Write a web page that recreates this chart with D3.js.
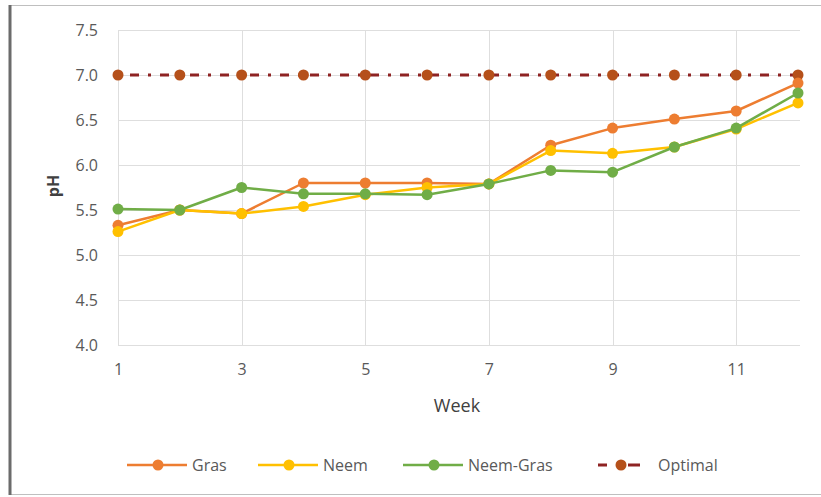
<!DOCTYPE html>
<html>
<head>
<meta charset="utf-8">
<script src="https://cdn.jsdelivr.net/npm/d3@7"></script>
<style>
  body { margin: 0; background: #fff; }
  text { font-family: "Open Sans", "Liberation Sans", sans-serif; }
</style>
</head>
<body>
<div class="chart"></div>
<script>
// pH per week for each treatment
var weeks = [1, 2, 3, 4, 5, 6, 7, 8, 9, 10, 11, 12];
var gras = [5.33, 5.5, 5.46, 5.8, 5.8, 5.8, 5.79, 6.22, 6.41, 6.51, 6.6, 6.91];
var neem = [5.26, 5.5, 5.46, 5.54, 5.67, 5.75, 5.79, 6.16, 6.13, 6.2, 6.4, 6.69];
var neemGras = [5.51, 5.5, 5.75, 5.68, 5.68, 5.67, 5.79, 5.94, 5.92, 6.2, 6.41, 6.8];
var optimal = [7, 7, 7, 7, 7, 7, 7, 7, 7, 7, 7, 7];
var seriesNames = ["Gras", "Neem", "Neem-Gras", "Optimal"];
var yTicks = [4.0, 4.5, 5.0, 5.5, 6.0, 6.5, 7.0, 7.5];
var xTicks = [1, 3, 5, 7, 9, 11];

var svgWidth = 821;
var svgHeight = 497;
var margin = { top: 30, right: 23, bottom: 152, left: 118 };
var width = svgWidth - margin.left - margin.right;
var height = svgHeight - margin.top - margin.bottom;

var svg = d3.select(".chart").append("svg")
  .attr("width", svgWidth)
  .attr("height", svgHeight);

// outer frame
svg.append("rect")
  .attr("x", 9.5).attr("y", 5.5)
  .attr("width", 840).attr("height", 489)
  .attr("fill", "#fff")
  .attr("stroke", "#bfbfbf");
svg.append("line")
  .attr("x1", 10).attr("x2", 10).attr("y1", 5).attr("y2", 495)
  .attr("stroke", "#6b6b6b").attr("stroke-width", 3);

var chart = svg.append("g")
  .attr("transform", "translate(" + margin.left + "," + margin.top + ")");

var x = d3.scaleLinear().domain([1, 12]).range([0, width]);
var y = d3.scaleLinear().domain([4, 7.5]).range([height, 0]);

// gridlines
chart.append("g").selectAll("line").data(yTicks).enter().append("line")
  .attr("x1", 0).attr("x2", width + 2)
  .attr("y1", function(d) { return y(d) + 0.5; })
  .attr("y2", function(d) { return y(d) + 0.5; })
  .attr("stroke", "#dedede");
chart.append("g").selectAll("line").data(xTicks).enter().append("line")
  .attr("x1", function(d) { return Math.round(x(d)) + 0.5; })
  .attr("x2", function(d) { return Math.round(x(d)) + 0.5; })
  .attr("y1", 0).attr("y2", height)
  .attr("stroke", "#dedede");

// axes
var leftAxis = d3.axisLeft(y).tickValues(yTicks).tickSize(0).tickPadding(20)
  .tickFormat(d3.format(".1f"));
var bottomAxis = d3.axisBottom(x).tickValues(xTicks).tickSize(0).tickPadding(19)
  .tickFormat(d3.format("d"));

var gy = chart.append("g").call(leftAxis);
gy.select(".domain").remove();
gy.selectAll("text").attr("fill", "#595959").style("font-size", "16px")
  .style("font-family", "'Open Sans', sans-serif");

var gx = chart.append("g").attr("transform", "translate(0," + height + ")").call(bottomAxis);
gx.select(".domain").remove();
gx.selectAll("text").attr("fill", "#595959").style("font-size", "16px")
  .style("font-family", "'Open Sans', sans-serif");

// axis titles
chart.append("text")
  .attr("transform", "rotate(-90)")
  .attr("x", -(186 - margin.top))
  .attr("y", 59 - margin.left)
  .attr("text-anchor", "middle")
  .attr("fill", "#404040")
  .style("font-size", "16px")
  .style("font-weight", "700")
  .text("pH");

chart.append("text")
  .attr("x", 457 - margin.left)
  .attr("y", 412 - margin.top)
  .attr("text-anchor", "middle")
  .attr("fill", "#404040")
  .style("font-size", "18px")
  .text("Week");

var series = [
  { name: seriesNames[0], values: gras, color: "#ed7d31", marker: "#ed7d31", dash: null },
  { name: seriesNames[1], values: neem, color: "#ffc000", marker: "#ffc000", dash: null },
  { name: seriesNames[2], values: neemGras, color: "#70ad47", marker: "#70ad47", dash: null },
  { name: seriesNames[3], values: optimal, color: "#8e2323", marker: "#b5501a", dash: "9,9,3,9" }
];

var line = d3.line()
  .x(function(d, i) { return x(weeks[i]); })
  .y(function(d) { return y(d); });

// draw Optimal first, then others in legend order
var drawOrder = [series[3], series[0], series[1], series[2]];
drawOrder.forEach(function(s) {
  chart.append("path")
    .datum(s.values)
    .attr("d", line)
    .attr("fill", "none")
    .attr("stroke", s.color)
    .attr("stroke-width", s.dash ? 3 : 2.5)
    .attr("stroke-dasharray", s.dash)
    .attr("stroke-dashoffset", s.dash ? -12 : null)
    .attr("stroke-linejoin", "round");
  chart.append("g").selectAll("circle").data(s.values).enter().append("circle")
    .attr("cx", function(d, i) { return x(weeks[i]); })
    .attr("cy", function(d) { return y(d); })
    .attr("r", 5.5)
    .attr("fill", s.marker);
});

// legend
var legendX = [127, 258, 403, 598];
var legendY = 465;
var legend = svg.append("g");
series.forEach(function(s, i) {
  var g = legend.append("g").attr("transform", "translate(" + legendX[i] + "," + legendY + ")");
  if (s.dash) {
    g.append("line").attr("x1", 0).attr("x2", 9).attr("y1", 0).attr("y2", 0)
      .attr("stroke", s.color).attr("stroke-width", 3);
    g.append("line").attr("x1", 30).attr("x2", 42).attr("y1", 0).attr("y2", 0)
      .attr("stroke", s.color).attr("stroke-width", 3);
    g.append("circle").attr("cx", 23).attr("cy", 0).attr("r", 5.5).attr("fill", s.marker);
    g.append("text").attr("x", 60).attr("y", 6)
      .attr("fill", "#595959").style("font-size", "16px").text(s.name);
  } else {
    g.append("line").attr("x1", 0).attr("x2", 60).attr("y1", 0).attr("y2", 0)
      .attr("stroke", s.color).attr("stroke-width", 2.5);
    g.append("circle").attr("cx", 31).attr("cy", 0).attr("r", 5.5).attr("fill", s.marker);
    g.append("text").attr("x", 65).attr("y", 6)
      .attr("fill", "#595959").style("font-size", "16px").text(s.name);
  }
});
</script>
</body>
</html>
